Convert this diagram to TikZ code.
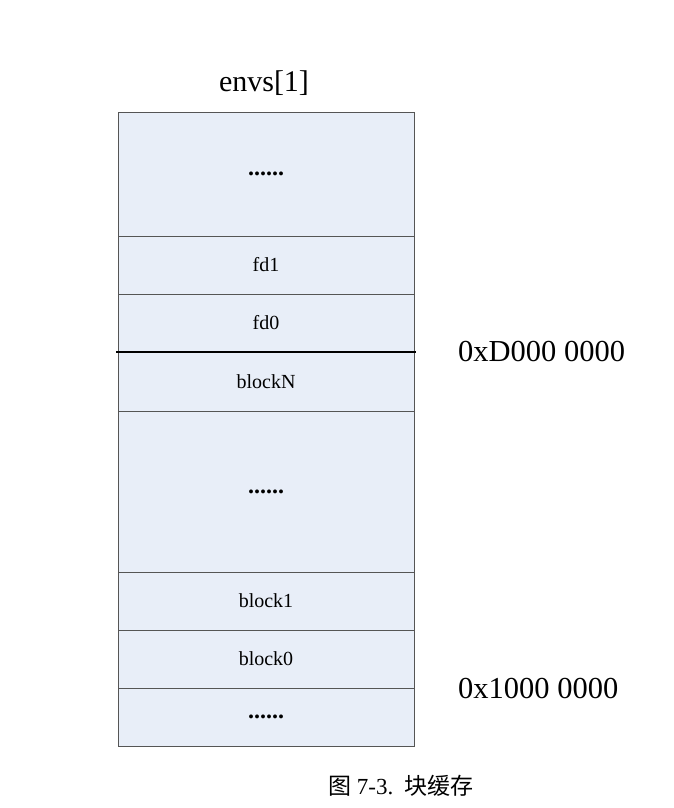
\documentclass[tikz,border=0pt]{standalone}
\usepackage{fontspec}
\setmainfont{Liberation Serif}
\newfontfamily\cjk{Noto Sans CJK SC}
\usetikzlibrary{positioning}
\definecolor{cellfill}{HTML}{E8EEF8}
\definecolor{cellline}{HTML}{555555}
\tikzset{
  cell/.style={draw=cellline, line width=0.8pt, fill=cellfill, minimum width=296pt, inner sep=0pt, outer sep=0pt, font=\fontsize{20}{24}\selectfont},
  gap/.style={cell, font=\fontsize{24}{28}\selectfont\bfseries},
  addr/.style={font=\fontsize{30.5}{36}\selectfont, inner sep=0pt},
}
\begin{document}
\begin{tikzpicture}[x=1pt,y=1pt]
    \useasboundingbox (0,0) rectangle (674,-808);
    \node[font=\fontsize{30}{36}\selectfont, anchor=base] (title) at (264,-91) {envs[1]};
    \node[gap, minimum height=124pt, anchor=north] (top) at (266,-112) {......};
    \node[cell, minimum height=58pt, below=0pt of top] (fdone) {fd1};
    \node[cell, minimum height=58pt, below=0pt of fdone] (fdzero) {fd0};
    \node[cell, minimum height=59pt, below=0pt of fdzero] (blkN) {blockN};
    \node[gap, minimum height=161pt, below=0pt of blkN] (mid) {......};
    \node[cell, minimum height=58pt, below=0pt of mid] (blkone) {block1};
    \node[cell, minimum height=58pt, below=0pt of blkone] (blkzero) {block0};
    \node[gap, minimum height=58pt, below=0pt of blkzero] (bottom) {......};
    \draw[line width=2.7pt] ([xshift=-2pt]fdzero.south west) -- ([xshift=2pt]fdzero.south east);
    \node[addr, right=44pt of fdzero.south east] (addrD) {0xD000 0000};
    \node[addr, right=44pt of blkzero.south east] (addrone) {0x1000 0000};
    \node[font=\fontsize{23}{28}\selectfont] (caption) at (401,-786) {{\cjk 图} 7-3.\enspace{\cjk 块缓存}};
\end{tikzpicture}
\end{document}
